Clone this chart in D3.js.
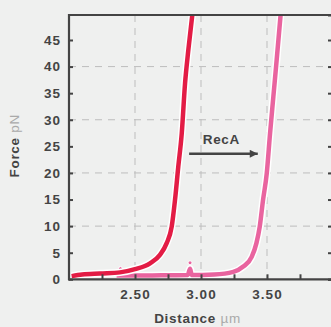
<!DOCTYPE html>
<html>
<head>
<meta charset="UTF-8">
<script src="https://cdn.jsdelivr.net/npm/d3@7"></script>
<style>
  body { margin:0; background:#eff0ef; }
  svg { display:block; font-family:"Liberation Sans", Arial, sans-serif; }
  .tick text { font-weight:bold; font-size:13.5px; fill:#444; letter-spacing:1px; }
</style>
</head>
<body>
<svg id="chart" width="331" height="327"></svg>
<script>
// data
const xTicks = [2.25, 2.5, 2.75, 3.0, 3.25, 3.5, 3.75];
const xLabels = [2.5, 3.0, 3.5];
const yTicks = [0, 5, 10, 15, 20, 25, 30, 35, 40, 45];
const gridX = [2.5, 3.0, 3.5];
const gridY = [10, 20, 30, 40];

// before RecA (red)
const redDistance = [2.02, 2.1, 2.235, 2.386, 2.5, 2.614, 2.689, 2.74, 2.778, 2.803, 2.828, 2.854, 2.879, 2.904, 2.934];
const redForce    = [0.6, 0.9, 1.1, 1.3, 1.9, 3.0, 4.6, 6.8, 9.9, 14.9, 21.2, 27.4, 36.8, 43.1, 49.7];
// after RecA (pink)
const pinkDistance = [2.36, 2.5, 2.7, 2.9, 2.917, 2.93, 3.1, 3.245, 3.32, 3.384, 3.42, 3.445, 3.47, 3.498, 3.523, 3.548, 3.573, 3.603];
const pinkForce    = [0.7, 0.7, 0.75, 0.8, 2.0, 0.8, 0.9, 1.4, 2.4, 4.2, 6.8, 9.9, 14.9, 19.9, 27.4, 34.3, 41.2, 49.7];
const pinkDots = [[2.917, 3.1], [2.39, 2.0]];

const annotation = { label: "RecA", from: 2.91, to: 3.43, force: 23.6 };

const svg = d3.select("#chart");
const x = d3.scaleLinear().domain([2, 4]).range([69, 333]);
const y = d3.scaleLinear().domain([0, 49.7]).range([279.3, 15]);
const ink = "#444";

// grid
svg.append("g").selectAll("line").data(gridY).join("line")
  .attr("x1", x(2)).attr("x2", x(4))
  .attr("y1", d => y(d)).attr("y2", d => y(d))
  .attr("stroke", "#bdbdbd").attr("stroke-width", 1).attr("stroke-dasharray", "7,6");
svg.append("g").selectAll("line").data(gridX).join("line")
  .attr("y1", y(49.7)).attr("y2", y(0))
  .attr("x1", d => x(d)).attr("x2", d => x(d))
  .attr("stroke", "#bdbdbd").attr("stroke-width", 1).attr("stroke-dasharray", "7,6");

// curves with white halo
function drawCurve(ds, fs, color) {
  const pts = ds.map((d, i) => [d, fs[i]]);
  const line = d3.line().x(p => x(p[0])).y(p => y(p[1])).curve(d3.curveMonotoneX);
  svg.append("path").attr("d", line(pts)).attr("fill", "none")
    .attr("stroke", "#fff").attr("stroke-width", 7.5).attr("stroke-linejoin", "round");
  svg.append("path").attr("d", line(pts)).attr("fill", "none")
    .attr("stroke", color).attr("stroke-width", 4.5).attr("stroke-linejoin", "round");
}
drawCurve(pinkDistance, pinkForce, "#e9649f");
svg.append("g").selectAll("circle").data(pinkDots).join("circle")
  .attr("cx", d => x(d[0])).attr("cy", d => y(d[1])).attr("r", 2)
  .attr("fill", "#e9649f").attr("stroke", "#fff").attr("stroke-width", 1);
drawCurve(redDistance, redForce, "#e31c45");

// axes
const yAxis = svg.append("g").attr("transform", `translate(${x(2)},0)`)
  .call(d3.axisLeft(y).tickValues(yTicks).tickSize(-4).tickPadding(8).tickFormat(d3.format("d")));
const xAxis = svg.append("g").attr("transform", `translate(0,${y(0)})`)
  .call(d3.axisBottom(x).tickValues(xTicks).tickSize(-5).tickPadding(10)
    .tickFormat(d => xLabels.includes(d) ? d3.format(".2f")(d) : ""));
const rAxis = svg.append("g").attr("transform", `translate(${x(4)},0)`)
  .call(d3.axisRight(y).tickValues(yTicks).tickSize(-5).tickFormat(""));
const topAxis = svg.append("g").attr("transform", `translate(0,${y(49.7)})`)
  .call(d3.axisTop(x).tickValues([]).tickSizeOuter(0));
[yAxis, xAxis, rAxis, topAxis].forEach(g => {
  g.select(".domain").attr("stroke", ink).attr("stroke-width", 2.2);
  g.selectAll(".tick line").attr("stroke", ink).attr("stroke-width", 2);
});
yAxis.select(".domain").attr("d", `M0,${y(0) + 1}V${y(49.7) - 1}`);
xAxis.select(".domain").attr("d", `M${x(2) - 1},0H${x(4)}`);
topAxis.select(".domain").attr("d", `M${x(2) - 1},0H${x(4)}`);

// annotation
svg.append("defs").append("marker").attr("id", "arrow")
  .attr("viewBox", "0 0 10 10").attr("refX", 10).attr("refY", 5)
  .attr("markerUnits", "userSpaceOnUse").attr("markerWidth", 13).attr("markerHeight", 8)
  .attr("orient", "auto")
  .append("path").attr("d", "M0,0L10,5L0,10Z").attr("fill", ink);
svg.append("line")
  .attr("x1", x(annotation.from)).attr("x2", x(annotation.to))
  .attr("y1", y(annotation.force)).attr("y2", y(annotation.force))
  .attr("stroke", ink).attr("stroke-width", 2.5).attr("marker-end", "url(#arrow)");
svg.append("text").attr("x", x(3.013)).attr("y", y(25.4))
  .attr("font-weight", "bold").attr("font-size", 13.5).attr("letter-spacing", "0.7px")
  .attr("fill", ink).text(annotation.label);

// axis titles
const xt = svg.append("text").attr("x", 197.5).attr("y", 323.3)
  .attr("text-anchor", "middle").attr("font-size", 13.5).attr("letter-spacing", "0.7px");
xt.append("tspan").attr("font-weight", "bold").attr("fill", ink).text("Distance");
xt.append("tspan").attr("fill", "#aaa").text(" µm");

const yt = svg.append("text").attr("transform", "translate(19.3,145.8) rotate(-90)")
  .attr("text-anchor", "middle").attr("font-size", 13.5).attr("letter-spacing", "0.7px");
yt.append("tspan").attr("font-weight", "bold").attr("fill", ink).text("Force");
yt.append("tspan").attr("fill", "#aaa").text(" pN");
</script>
</body>
</html>
